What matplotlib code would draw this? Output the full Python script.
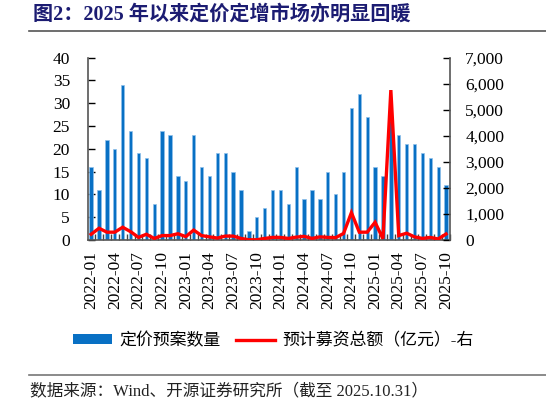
import matplotlib
matplotlib.use("Agg")
import matplotlib.pyplot as plt
from matplotlib.lines import Line2D
from matplotlib.patches import Patch
from matplotlib.ticker import FuncFormatter, FixedLocator
import numpy as np

months = [f"{y}-{m:02d}" for y in (2022, 2023, 2024, 2025) for m in range(1, 13)][:46]

counts = [16, 11, 22, 20, 34, 24, 19, 18, 8, 24, 23, 14,
          13, 23, 16, 14, 19, 19, 15, 11, 2, 5, 7, 11,
          11, 8, 16, 9, 11, 9, 15, 10, 15, 29, 32, 27,
          16, 14, 26, 23, 21, 21, 19, 18, 16, 12]

amounts = [220, 450, 300, 300, 490, 320, 100, 220, 60, 170, 170, 240,
           130, 380, 170, 120, 75, 150, 150, 60, 10, 10, 60, 100,
           100, 60, 110, 140, 60, 120, 100, 90, 250, 1050, 300, 300,
           680, 50, 5750, 170, 260, 120, 60, 100, 40, 230]

bar_label = "定价预案数量"
line_label = "预计募资总额（亿元）-右"
title = "图2：2025 年以来定价定增市场亦明显回暖"
source = "数据来源：Wind、开源证券研究所（截至 2025.10.31）"

W, H = 546, 405
fig = plt.figure(figsize=(W / 100, H / 100), dpi=100)
MIX = ["Liberation Serif", "Noto Sans CJK SC"]

def fx(px):
    return px / W

def fy(py):
    return 1 - py / H

ax = fig.add_axes([fx(88), fy(240), fx(450) - fx(88), fy(57.5) - fy(240)])
x = np.arange(len(months))
ax.bar(x, counts, width=0.42, color="#0870c4", edgecolor="#8fc0ea", linewidth=0.5, zorder=2)
ax.set_ylim(0, 40)
ax.set_yticks(range(0, 41, 5))
ax.set_xlim(-0.4, len(months) - 0.5)

ax2 = ax.twinx()
ax2.plot(x, amounts, color="#ff0000", linewidth=2.4, zorder=3, solid_joinstyle="miter")
ax2.set_ylim(0, 7000)
ax2.set_yticks(range(0, 7001, 1000))
ax2.yaxis.set_major_formatter(FuncFormatter(lambda v, p: f"{int(v):,}"))

ax.set_xticks(x[::3])
ax.set_xticklabels(months[::3], rotation=90, fontfamily="Liberation Serif", fontsize=12.5)
ax.xaxis.set_minor_locator(FixedLocator(np.arange(-0.5, len(months), 1)))
ax.tick_params(axis="x", which="major", length=0, pad=8)
ax.tick_params(axis="x", which="minor", direction="in", length=4, width=1, color="#444444")
ax.tick_params(axis="y", direction="in", length=5, width=1, pad=13, labelsize=12.5)
ax2.tick_params(axis="y", direction="in", length=5, width=1, pad=11, labelsize=12.5)
for lab in ax.get_yticklabels() + ax2.get_yticklabels():
    lab.set_fontfamily("Liberation Serif")

for a in (ax, ax2):
    a.spines["top"].set_visible(False)
    for s in ("left", "right", "bottom"):
        a.spines[s].set_color("#555555")
        a.spines[s].set_linewidth(1.2)
ax.spines["right"].set_visible(False)
ax2.spines["left"].set_visible(False)
ax2.spines["bottom"].set_visible(False)
ax.set_zorder(1)
ax2.set_zorder(2)
ax2.patch.set_visible(False)

fig.text(fx(33), fy(15), title, fontsize=14.5, fontweight="bold", color="#1c1c72",
         family=MIX, va="center", ha="left")
fig.add_artist(Line2D([fx(29), fx(546)], [fy(30.5), fy(30.5)], color="#555555", linewidth=1.2))
fig.add_artist(Line2D([fx(29), fx(546)], [fy(374.5), fy(374.5)], color="#777777", linewidth=1.2))
fig.text(fx(30), fy(391), source, fontsize=12, color="#222222", family=MIX, va="center", ha="left")

handles = [Patch(facecolor="#0870c4", edgecolor="none"), Line2D([], [], color="#ff0000", linewidth=2.4)]
leg = fig.legend(handles, [bar_label, line_label], loc="center", bbox_to_anchor=(fx(273.5), fy(341)),
                 ncol=2, frameon=False, handlelength=2.3, handleheight=0.5, handletextpad=0.45,
                 columnspacing=0.9, prop={"family": MIX, "size": 12.2})

fig.savefig("out.png", dpi=100)
